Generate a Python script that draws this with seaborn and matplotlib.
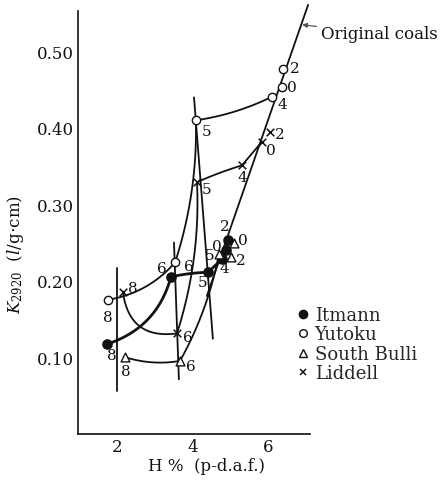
import numpy as np
import pandas as pd
import matplotlib
matplotlib.use("Agg")
import matplotlib.pyplot as plt
import seaborn as sns
from matplotlib.lines import Line2D

# ---- data: H content (%) and K2920 for each coal, by treatment level ----
itmann_level = ["8", "6", "5", "4", "0", "2"]
itmann_h = [1.74, 3.43, 4.41, 4.78, 4.89, 4.94]
itmann_k = [0.117, 0.205, 0.211, 0.228, 0.240, 0.253]

yutoku_level = ["8", "6", "5", "4", "0", "2"]
yutoku_h = [1.76, 3.54, 4.09, 6.11, 6.37, 6.40]
yutoku_k = [0.175, 0.224, 0.410, 0.441, 0.453, 0.477]

bulli_level = ["8", "6", "5", "2", "0"]
bulli_h = [2.21, 3.67, 4.70, 5.02, 5.10]
bulli_k = [0.100, 0.095, 0.235, 0.231, 0.249]

liddell_level = ["8", "6", "5", "4", "0", "2"]
liddell_h = [2.16, 3.59, 4.12, 5.31, 5.84, 6.05]
liddell_k = [0.185, 0.131, 0.329, 0.351, 0.382, 0.395]

# straight guide lines (end points)
iso8_h, iso8_k = [2.00, 2.00], [0.216, 0.056]
iso6_h, iso6_k = [3.51, 3.64], [0.250, 0.071]
iso5_h, iso5_k = [4.04, 4.54], [0.440, 0.124]
orig_h, orig_k = [7.06, 4.38], [0.561, 0.180]

x_ticks = [2, 4, 6]
y_ticks = [0.10, 0.20, 0.30, 0.40, 0.50]
y_ticklabels = ["0.10", "0.20", "0.30", "0.40", "0.50"]

# ---- styling ----
sns.set_theme(style="white")
plt.rcParams["font.family"] = ["DejaVu Serif"]
plt.rcParams["mathtext.fontset"] = "dejavuserif"

W_PX, H_PX = 442, 489
fig = plt.figure(figsize=(W_PX / 100, H_PX / 100), dpi=100)
ax = fig.add_axes([78 / W_PX, 1 - 434.5 / H_PX, (310 - 78) / W_PX, (434.5 - 12) / H_PX])
XLIM, YLIM = (0.97, 7.11), (0.0, 0.553)
ax.set_xlim(*XLIM)
ax.set_ylim(*YLIM)
AX_W, AX_H = 310 - 78, 434.5 - 12


def curved_path(xs, ys, bends, n=40):
    """Chain of quadratic Bezier segments through the points (bend in screen units)."""
    sx = (np.asarray(xs) - XLIM[0]) / (XLIM[1] - XLIM[0]) * AX_W
    sy = (np.asarray(ys) - YLIM[0]) / (YLIM[1] - YLIM[0]) * AX_H
    outx, outy = [], []
    t = np.linspace(0, 1, n)
    for i, b in enumerate(bends):
        p0 = np.array([sx[i], sy[i]])
        p1 = np.array([sx[i + 1], sy[i + 1]])
        d = p1 - p0
        L = np.hypot(*d)
        nrm = np.array([-d[1], d[0]]) / L
        c = (p0 + p1) / 2 + b * L * nrm
        pts = ((1 - t) ** 2)[:, None] * p0 + (2 * (1 - t) * t)[:, None] * c + (t ** 2)[:, None] * p1
        outx.extend(pts[:, 0])
        outy.extend(pts[:, 1])
    outx = np.array(outx) / AX_W * (XLIM[1] - XLIM[0]) + XLIM[0]
    outy = np.array(outy) / AX_H * (YLIM[1] - YLIM[0]) + YLIM[0]
    return outx, outy


ink = "#111111"

# guide lines
for gh, gk in [(iso8_h, iso8_k), (iso6_h, iso6_k), (iso5_h, iso5_k)]:
    ax.plot(gh, gk, color=ink, lw=1.3, zorder=2)
ax.plot(orig_h, orig_k, color=ink, lw=1.3, zorder=2, clip_on=False)

# coal curves
coals = [
    dict(name="Itmann", h=itmann_h, k=itmann_k, lev=itmann_level, ncurve=6,
         bends=[-0.27, 0.05, 0.0, 0.0, 0.0], lw=2.0,
         marker="o", face=ink, s=44,
         offs=[(5, -11), (-9, 9), (-5, -10), (2, -9), (-9, 4), (-3, 14)]),
    dict(name="Yutoku", h=yutoku_h, k=yutoku_k, lev=yutoku_level, ncurve=4,
         bends=[-0.18, -0.085, -0.08], lw=1.3,
         marker="o", face="white", s=36,
         offs=[(0, -17), (14, -4), (11, -11), (10, -7), (10, 0), (12, 1)]),
    dict(name="South Bulli", h=bulli_h, k=bulli_k, lev=bulli_level, ncurve=3,
         bends=[-0.12, -0.08], lw=1.3,
         marker="^", face="white", s=40,
         offs=[(1, -14), (11, -5), (-9, -1), (10, -3), (9, 3)]),
    dict(name="Liddell", h=liddell_h, k=liddell_k, lev=liddell_level, ncurve=5,
         bends=[-0.5, -0.09, 0.03, 0.0], lw=1.3,
         marker="x", face=ink, s=30,
         offs=[(10, 4), (11, -4), (10, -7), (0, -12), (9, -8), (10, -2)]),
]

for c in coals:
    n = c["ncurve"]
    cx, cy = curved_path(c["h"][:n], c["k"][:n], c["bends"])
    ax.plot(cx, cy, color=ink, lw=c["lw"], zorder=3, solid_capstyle="round")

for c in coals:
    df = pd.DataFrame({"H": c["h"], "K": c["k"]})
    if c["marker"] == "x":
        sns.scatterplot(data=df, x="H", y="K", ax=ax, marker="x", s=c["s"],
                        color=ink, linewidth=1.1, zorder=5, legend=False)
    else:
        sns.scatterplot(data=df, x="H", y="K", ax=ax, marker=c["marker"], s=c["s"],
                        facecolor=c["face"], edgecolor=ink, linewidth=1.0,
                        zorder=5, legend=False)
    for lab, hh, kk, (dx, dy) in zip(c["lev"], c["h"], c["k"], c["offs"]):
        ax.annotate(lab, (hh, kk), xytext=(dx * 0.72, dy * 0.72),
                    textcoords="offset points", ha="center", va="center",
                    fontsize=11, color=ink, zorder=6)

# callout for the original coals line
ax.annotate("Original coals", xy=(6.90, 0.535), xytext=(7.40, 0.523),
            ha="left", va="center", fontsize=12, color=ink,
            annotation_clip=False,
            arrowprops=dict(arrowstyle="-|>", color="#555555", lw=0.9,
                            mutation_scale=7, shrinkA=1, shrinkB=0))

# axes
for side in ["top", "right"]:
    ax.spines[side].set_visible(False)
for side in ["left", "bottom"]:
    ax.spines[side].set_color(ink)
    ax.spines[side].set_linewidth(1.2)
ax.set_xticks(x_ticks)
ax.set_xticklabels([str(v) for v in x_ticks])
ax.set_yticks(y_ticks)
ax.set_yticklabels(y_ticklabels)
ax.tick_params(axis="both", direction="in", length=6, width=1.0, colors=ink,
               labelsize=12, labelcolor=ink)
ax.tick_params(axis="y", pad=3)
ax.tick_params(axis="x", pad=3)
ax.set_xlabel("")
ax.set_ylabel("")
fig.text(207 / W_PX, 1 - 467 / H_PX, "H %  (p-d.a.f.)", ha="center", va="center",
         fontsize=12, color=ink)
fig.text(16 / W_PX, 1 - 255 / H_PX, r"$K_{\rm 2920}$  ($l$/g$\cdot$cm)",
         rotation=90, ha="center", va="center", fontsize=12, color=ink)

# legend
handles = [
    Line2D([], [], ls="none", marker="o", ms=6, mfc=ink, mec=ink),
    Line2D([], [], ls="none", marker="o", ms=5.5, mfc="white", mec=ink, mew=1.0),
    Line2D([], [], ls="none", marker="^", ms=5.5, mfc="white", mec=ink, mew=1.0),
    Line2D([], [], ls="none", marker="x", ms=5, mec=ink, mew=1.1),
]
fig.legend(handles, [c["name"] for c in coals], loc="upper left",
           bbox_to_anchor=(297.5 / W_PX, 1 - 307 / H_PX), bbox_transform=fig.transFigure,
           frameon=False, fontsize=13, handlelength=0.6, handletextpad=0.35,
           labelspacing=0.08, borderpad=0, borderaxespad=0)

fig.savefig("out.png", dpi=100)
